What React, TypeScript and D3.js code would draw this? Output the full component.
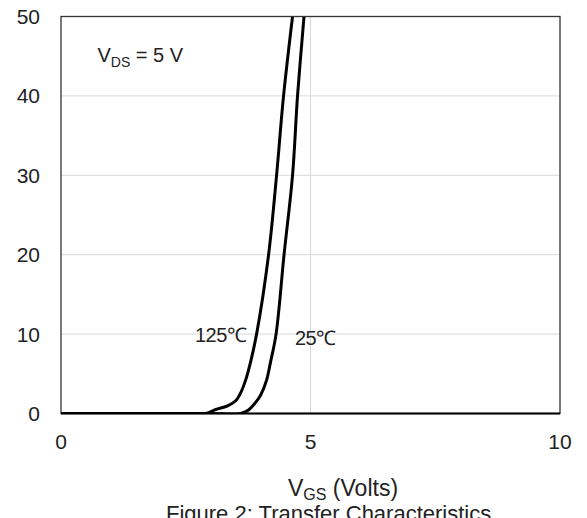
import React from "react";
import * as d3 from "d3";

const xTicks = [0, 5, 10];
const yTicks = [0, 10, 20, 30, 40, 50];

const vgs125 = [0, 2.0, 2.9, 3.1, 3.35, 3.5, 3.6, 3.7, 3.8, 3.92, 4.16, 4.32, 4.46, 4.64];
const id125 = [0, 0, 0, 0.5, 1.0, 1.6, 2.6, 4.2, 6.5, 10, 20, 30, 40, 50];

const vgs25 = [0, 2.0, 3.0, 3.6, 3.75, 3.9, 4.0, 4.12, 4.2, 4.31, 4.47, 4.64, 4.74, 4.87];
const id25 = [0, 0, 0, 0, 0.4, 1.4, 2.3, 4.2, 6.5, 10, 20, 30, 40, 50];

const W = 587;
const H = 518;
const left = 61;
const right = 560;
const top = 16.5;
const bottom = 413.5;
const font = "'Liberation Sans', Arial, sans-serif";

export default function App() {
  const x = d3.scaleLinear().domain([0, 10]).range([left, right]);
  const y = d3.scaleLinear().domain([0, 50]).range([bottom, top]);
  const line = d3
    .line<[number, number]>()
    .x((d) => x(d[0]))
    .y((d) => y(d[1]))
    .curve(d3.curveCatmullRom.alpha(0.5));
  const s125 = vgs125.map((v, i) => [v, id125[i]] as [number, number]);
  const s25 = vgs25.map((v, i) => [v, id25[i]] as [number, number]);

  return (
    <svg
      width={W}
      height={H}
      style={{ position: "absolute", left: 0, top: 0, background: "#fff" }}
      fontFamily={font}
    >
      <defs>
        <clipPath id="plot">
          <rect x={left} y={top} width={right - left} height={bottom - top} />
        </clipPath>
      </defs>
      {yTicks.slice(1, -1).map((t) => (
        <line key={"gy" + t} x1={left} x2={right} y1={y(t)} y2={y(t)} stroke="#d9d9d9" strokeWidth={1} />
      ))}
      {xTicks.slice(1, -1).map((t) => (
        <line key={"gx" + t} x1={x(t)} x2={x(t)} y1={top} y2={bottom} stroke="#d9d9d9" strokeWidth={1} />
      ))}
      <g clipPath="url(#plot)">
        <path d={line(s125) || ""} fill="none" stroke="#000" strokeWidth={3} />
        <path d={line(s25) || ""} fill="none" stroke="#000" strokeWidth={3} />
      </g>
      <rect x={left} y={top} width={right - left} height={bottom - top} fill="none" stroke="#333" strokeWidth={1.3} />
      <line x1={left} x2={right} y1={bottom} y2={bottom} stroke="#000" strokeWidth={2} />
      {yTicks.map((t) => (
        <text key={"yl" + t} x={40} y={y(t)} dy="0.36em" textAnchor="end" fontSize={21} fill="#222">
          {t}
        </text>
      ))}
      {xTicks.map((t) => (
        <text key={"xl" + t} x={x(t)} y={449} textAnchor="middle" fontSize={21} fill="#222">
          {t}
        </text>
      ))}
      <text x={97.5} y={62} fontSize={20} fill="#222">
        V<tspan fontSize={14} dy={4.5}>DS</tspan>
        <tspan dy={-4.5}> = 5 V</tspan>
      </text>
      <text x={195} y={342} fontSize={20} fill="#222" letterSpacing={-0.5}>
        125℃
      </text>
      <text x={295} y={345} fontSize={20} fill="#222" letterSpacing={-0.5}>
        25℃
      </text>
      <text x={288} y={496} fontSize={23} fill="#222">
        V<tspan fontSize={16} dy={3.5}>GS</tspan>
        <tspan dy={-3.5}> (Volts)</tspan>
      </text>
      <text x={166} y={521} fontSize={22} fill="#222">
        Figure 2: Transfer Characteristics
      </text>
    </svg>
  );
}
